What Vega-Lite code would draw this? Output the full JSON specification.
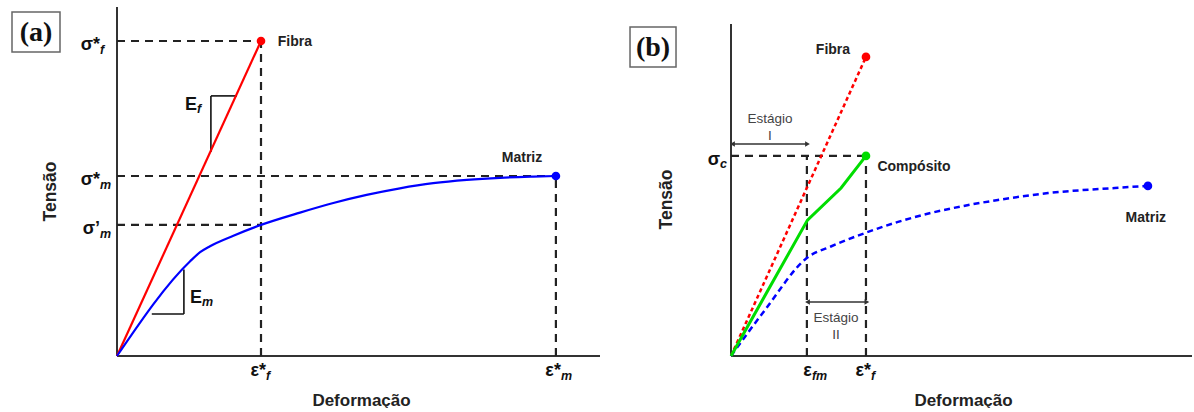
{
  "$schema": "https://vega.github.io/schema/vega-lite/v6.json",
  "padding": {"left": 9, "top": 5, "right": 0, "bottom": 0},
  "autosize": {"type": "pad"},
  "background": "white",
  "spacing": 26,
  "config": {"view": {"stroke": null}, "font": "Liberation Sans"},
  "datasets": {
    "a_axes": [{"x": 0, "y": 0, "x2": 0, "y2": 116.3}, {"x": 0, "y": 0, "x2": 161, "y2": 0}],
    "a_dash": [
      {"x": 0, "y": 105, "x2": 48, "y2": 105},
      {"x": 48, "y": 0, "x2": 48, "y2": 105},
      {"x": 0, "y": 60, "x2": 146.3, "y2": 60},
      {"x": 0, "y": 43.7, "x2": 48, "y2": 43.7},
      {"x": 146.3, "y": 0, "x2": 146.3, "y2": 60}
    ],
    "a_tri": [
      {"x": 31.3, "y": 86.7, "x2": 40, "y2": 86.7},
      {"x": 31.3, "y": 68, "x2": 31.3, "y2": 86.7},
      {"x": 11.6, "y": 14, "x2": 22.3, "y2": 14},
      {"x": 22.3, "y": 14, "x2": 22.3, "y2": 28.8}
    ],
    "a_lines": [
      {"s": "Fibra", "x": 0, "y": 0}, {"s": "Fibra", "x": 48, "y": 105},
      {"s": "Matriz", "x": 0, "y": 0}, {"s": "Matriz", "x": 24.3, "y": 31.5},
      {"s": "Matriz", "x": 27.7, "y": 34.6}, {"s": "Matriz", "x": 31, "y": 36.6},
      {"s": "Matriz", "x": 38.8, "y": 40.1}, {"s": "Matriz", "x": 48, "y": 43.7},
      {"s": "Matriz", "x": 61, "y": 47.8}, {"s": "Matriz", "x": 72.1, "y": 51.0},
      {"s": "Matriz", "x": 83.2, "y": 53.7}, {"s": "Matriz", "x": 94.3, "y": 55.9},
      {"s": "Matriz", "x": 105.4, "y": 57.6}, {"s": "Matriz", "x": 116.6, "y": 58.7},
      {"s": "Matriz", "x": 127.7, "y": 59.4}, {"s": "Matriz", "x": 138.7, "y": 59.8},
      {"s": "Matriz", "x": 146.3, "y": 60}
    ],
    "a_pts": [{"s": "Fibra", "x": 48, "y": 105}, {"s": "Matriz", "x": 146.3, "y": 60}],
    "a_box": [{"x": -27, "y": 108, "t": "(a)"}],
    "a_ylab": [
      {"x": 0, "y": 105, "main": "σ*", "sub": "f"},
      {"x": 0, "y": 60, "main": "σ*", "sub": "m"},
      {"x": 0, "y": 43.7, "main": "σ’", "sub": "m"}
    ],
    "a_xlab": [
      {"x": 48, "y": 0, "main": "ε*", "sub": "f"},
      {"x": 146.3, "y": 0, "main": "ε*", "sub": "m"}
    ],
    "a_elab": [
      {"x": 26.7, "y": 82, "main": "E", "sub": "f"},
      {"x": 28.3, "y": 17.7, "main": "E", "sub": "m"}
    ],
    "a_names": [{"x": 59.3, "y": 104.7, "t": "Fibra"}, {"x": 135, "y": 66, "t": "Matriz"}],
    "b_axes": [{"x": 0, "y": 0, "x2": 0, "y2": 110.7}, {"x": 0, "y": 0, "x2": 153.7, "y2": 0}],
    "b_dash": [
      {"x": 0, "y": 66.7, "x2": 45, "y2": 66.7},
      {"x": 25.3, "y": 0, "x2": 25.3, "y2": 66.7},
      {"x": 45, "y": 0, "x2": 45, "y2": 66.7}
    ],
    "b_lines": [
      {"s": "Fibra", "x": 0, "y": 0}, {"s": "Fibra", "x": 45, "y": 99.7},
      {"s": "Matriz", "x": 0, "y": 0}, {"s": "Matriz", "x": 11.3, "y": 15.3},
      {"s": "Matriz", "x": 25.7, "y": 33}, {"s": "Matriz", "x": 33.3, "y": 36.5},
      {"s": "Matriz", "x": 44.7, "y": 41}, {"s": "Matriz", "x": 55.7, "y": 44.7},
      {"s": "Matriz", "x": 66.7, "y": 47.7}, {"s": "Matriz", "x": 78, "y": 50.1},
      {"s": "Matriz", "x": 89, "y": 52}, {"s": "Matriz", "x": 105.7, "y": 54.3},
      {"s": "Matriz", "x": 128, "y": 56}, {"s": "Matriz", "x": 139, "y": 56.7}
    ],
    "b_comp": [
      {"s": "Compósito", "x": 0, "y": 0}, {"s": "Compósito", "x": 25.5, "y": 45.3},
      {"s": "Compósito", "x": 36.7, "y": 56}, {"s": "Compósito", "x": 45, "y": 66.7}
    ],
    "b_pts": [
      {"s": "Fibra", "x": 45, "y": 99.7},
      {"s": "Compósito", "x": 45, "y": 66.7},
      {"s": "Matriz", "x": 139, "y": 56.7}
    ],
    "b_arrows": [{"x": 0.5, "x2": 25.5, "y": 70.7}, {"x": 25.5, "x2": 45.3, "y": 18}],
    "b_heads": [
      {"x": 0.5, "y": 70.7, "d": "l"}, {"x": 25.5, "y": 70.7, "d": "r"},
      {"x": 25.5, "y": 18, "d": "l"}, {"x": 45.3, "y": 18, "d": "r"}
    ],
    "b_stage": [{"x": 13, "y": 79, "t": "Estágio\nI"}, {"x": 35, "y": 12.7, "t": "Estágio\nII"}],
    "b_box": [{"x": -26, "y": 103, "t": "(b)"}],
    "b_ylab": [{"x": 0, "y": 66.7, "main": "σ", "sub": "c"}],
    "b_xlab": [
      {"x": 25.3, "y": 0, "main": "ε", "sub": "fm"},
      {"x": 45, "y": 0, "main": "ε*", "sub": "f"}
    ],
    "b_names": [
      {"x": 34, "y": 102, "t": "Fibra"},
      {"x": 61, "y": 63, "t": "Compósito"},
      {"x": 138.3, "y": 46, "t": "Matriz"}
    ]
  },
  "hconcat": [
    {
      "width": 483,
      "height": 351,
      "encoding": {
        "x": {"field": "x", "type": "quantitative",
          "scale": {"domain": [0, 161], "nice": false, "zero": false},
          "axis": {"title": "Deformação", "domain": false, "ticks": false, "labels": false, "grid": false,
            "titleX": 244, "titleY": 49, "titleBaseline": "alphabetic", "titleAlign": "center",
            "titleFontSize": 17, "titleFontWeight": "bold", "titleFont": "Liberation Sans", "titleColor": "#222"}},
        "y": {"field": "y", "type": "quantitative",
          "scale": {"domain": [0, 117], "nice": false, "zero": false},
          "axis": {"title": "Tensão", "domain": false, "ticks": false, "labels": false, "grid": false,
            "titleX": -62, "titleY": 186, "titleAngle": -90, "titleBaseline": "alphabetic", "titleAlign": "center",
            "titleFontSize": 17.5, "titleFontWeight": "bold", "titleFont": "Liberation Sans", "titleColor": "#222"}}
      },
      "layer": [
        {"data": {"name": "a_axes"}, "mark": {"type": "rule", "color": "#333", "strokeWidth": 2},
         "encoding": {"x2": {"field": "x2"}, "y2": {"field": "y2"}}},
        {"data": {"name": "a_dash"}, "mark": {"type": "rule", "color": "#222", "strokeWidth": 2.2, "strokeDash": [8, 6]},
         "encoding": {"x2": {"field": "x2"}, "y2": {"field": "y2"}}},
        {"data": {"name": "a_tri"}, "mark": {"type": "rule", "color": "#111", "strokeWidth": 1.6},
         "encoding": {"x2": {"field": "x2"}, "y2": {"field": "y2"}}},
        {"data": {"name": "a_lines"}, "mark": {"type": "line", "strokeWidth": 2.2, "interpolate": "monotone"},
         "encoding": {"color": {"field": "s", "type": "nominal",
           "scale": {"domain": ["Fibra", "Matriz", "Compósito"], "range": ["#ff0000", "#0000ff", "#00dd00"]}, "legend": null}}},
        {"data": {"name": "a_pts"}, "mark": {"type": "point", "filled": true, "opacity": 1, "size": 75},
         "encoding": {"color": {"field": "s", "type": "nominal",
           "scale": {"domain": ["Fibra", "Matriz", "Compósito"], "range": ["#ff0000", "#0000ff", "#00dd00"]}, "legend": null}}},
        {"data": {"name": "a_box"}, "mark": {"type": "point", "shape": "M-1.2,-1H1.2V1H-1.2Z", "size": 1600, "filled": false, "stroke": "#666", "strokeWidth": 1.5, "opacity": 1}},
        {"data": {"name": "a_box"}, "mark": {"type": "text", "font": "Liberation Serif", "fontWeight": "bold", "fontSize": 28, "baseline": "middle", "align": "center", "dy": 1, "color": "#111"},
         "encoding": {"text": {"field": "t"}}},
        {"data": {"name": "a_ylab"}, "mark": {"type": "text", "align": "right", "baseline": "alphabetic", "dx": -17, "dy": 9, "fontSize": 18, "fontWeight": "bold", "color": "#111"},
         "encoding": {"text": {"field": "main"}}},
        {"data": {"name": "a_ylab"}, "mark": {"type": "text", "align": "left", "baseline": "alphabetic", "dx": -17, "dy": 13, "fontSize": 12.5, "fontWeight": "bold", "fontStyle": "italic", "color": "#111"},
         "encoding": {"text": {"field": "sub"}}},
        {"data": {"name": "a_xlab"}, "mark": {"type": "text", "align": "right", "baseline": "alphabetic", "dx": 5, "dy": 20, "fontSize": 18, "fontWeight": "bold", "color": "#111"},
         "encoding": {"text": {"field": "main"}}},
        {"data": {"name": "a_xlab"}, "mark": {"type": "text", "align": "left", "baseline": "alphabetic", "dx": 5, "dy": 24, "fontSize": 12.5, "fontWeight": "bold", "fontStyle": "italic", "color": "#111"},
         "encoding": {"text": {"field": "sub"}}},
        {"data": {"name": "a_elab"}, "mark": {"type": "text", "align": "right", "baseline": "alphabetic", "fontSize": 18, "fontWeight": "bold", "color": "#111"},
         "encoding": {"text": {"field": "main"}}},
        {"data": {"name": "a_elab"}, "mark": {"type": "text", "align": "left", "baseline": "alphabetic", "dy": 3, "fontSize": 12.5, "fontWeight": "bold", "fontStyle": "italic", "color": "#111"},
         "encoding": {"text": {"field": "sub"}}},
        {"data": {"name": "a_names"}, "mark": {"type": "text", "align": "center", "baseline": "middle", "fontSize": 14, "fontWeight": "bold", "color": "#222"},
         "encoding": {"text": {"field": "t"}}}
      ]
    },
    {
      "width": 461,
      "height": 351,
      "encoding": {
        "x": {"field": "x", "type": "quantitative",
          "scale": {"domain": [0, 153.7], "nice": false, "zero": false},
          "axis": {"title": "Deformação", "domain": false, "ticks": false, "labels": false, "grid": false,
            "titleX": 232, "titleY": 49, "titleBaseline": "alphabetic", "titleAlign": "center",
            "titleFontSize": 17, "titleFontWeight": "bold", "titleFont": "Liberation Sans", "titleColor": "#222"}},
        "y": {"field": "y", "type": "quantitative",
          "scale": {"domain": [0, 117], "nice": false, "zero": false},
          "axis": {"title": "Tensão", "domain": false, "ticks": false, "labels": false, "grid": false,
            "titleX": -60, "titleY": 194, "titleAngle": -90, "titleBaseline": "alphabetic", "titleAlign": "center",
            "titleFontSize": 17.5, "titleFontWeight": "bold", "titleFont": "Liberation Sans", "titleColor": "#222"}}
      },
      "layer": [
        {"data": {"name": "b_axes"}, "mark": {"type": "rule", "color": "#333", "strokeWidth": 2},
         "encoding": {"x2": {"field": "x2"}, "y2": {"field": "y2"}}},
        {"data": {"name": "b_dash"}, "mark": {"type": "rule", "color": "#222", "strokeWidth": 2.2, "strokeDash": [8, 6]},
         "encoding": {"x2": {"field": "x2"}, "y2": {"field": "y2"}}},
        {"data": {"name": "b_arrows"}, "mark": {"type": "rule", "color": "#333", "strokeWidth": 1.5},
         "encoding": {"x2": {"field": "x2"}}},
        {"data": {"name": "b_heads"}, "mark": {"type": "point", "filled": true, "size": 30, "color": "#333", "opacity": 1},
         "encoding": {"shape": {"field": "d", "type": "nominal", "scale": {"domain": ["l", "r"], "range": ["triangle-left", "triangle-right"]}, "legend": null}}},
        {"data": {"name": "b_lines"}, "mark": {"type": "line", "strokeWidth": 2.5, "interpolate": "monotone"},
         "encoding": {
           "color": {"field": "s", "type": "nominal",
             "scale": {"domain": ["Fibra", "Matriz", "Compósito"], "range": ["#ff0000", "#0000ff", "#00dd00"]}, "legend": null},
           "strokeDash": {"field": "s", "type": "nominal",
             "scale": {"domain": ["Fibra", "Matriz"], "range": [[4, 3], [6, 4]]}, "legend": null}}},
        {"data": {"name": "b_comp"}, "mark": {"type": "line", "strokeWidth": 3, "color": "#00dd00"}},
        {"data": {"name": "b_pts"}, "mark": {"type": "point", "filled": true, "opacity": 1, "size": 75},
         "encoding": {"color": {"field": "s", "type": "nominal",
           "scale": {"domain": ["Fibra", "Matriz", "Compósito"], "range": ["#ff0000", "#0000ff", "#00dd00"]}, "legend": null}}},
        {"data": {"name": "b_box"}, "mark": {"type": "point", "shape": "M-1.15,-1H1.15V1H-1.15Z", "size": 1600, "filled": false, "stroke": "#666", "strokeWidth": 1.5, "opacity": 1}},
        {"data": {"name": "b_box"}, "mark": {"type": "text", "font": "Liberation Serif", "fontWeight": "bold", "fontSize": 28, "baseline": "middle", "align": "center", "dy": 1, "color": "#111"},
         "encoding": {"text": {"field": "t"}}},
        {"data": {"name": "b_ylab"}, "mark": {"type": "text", "align": "right", "baseline": "alphabetic", "dx": -11, "dy": 9, "fontSize": 18, "fontWeight": "bold", "color": "#111"},
         "encoding": {"text": {"field": "main"}}},
        {"data": {"name": "b_ylab"}, "mark": {"type": "text", "align": "left", "baseline": "alphabetic", "dx": -11, "dy": 12, "fontSize": 12.5, "fontWeight": "bold", "fontStyle": "italic", "color": "#111"},
         "encoding": {"text": {"field": "sub"}}},
        {"data": {"name": "b_xlab"}, "mark": {"type": "text", "align": "right", "baseline": "alphabetic", "dx": 5, "dy": 20, "fontSize": 18, "fontWeight": "bold", "color": "#111"},
         "encoding": {"text": {"field": "main"}}},
        {"data": {"name": "b_xlab"}, "mark": {"type": "text", "align": "left", "baseline": "alphabetic", "dx": 5, "dy": 24, "fontSize": 12.5, "fontWeight": "bold", "fontStyle": "italic", "color": "#111"},
         "encoding": {"text": {"field": "sub"}}},
        {"data": {"name": "b_stage"}, "mark": {"type": "text", "align": "center", "baseline": "middle", "lineBreak": "\n", "lineHeight": 17, "fontSize": 13.5, "color": "#444"},
         "encoding": {"text": {"field": "t"}}},
        {"data": {"name": "b_names"}, "mark": {"type": "text", "align": "center", "baseline": "middle", "fontSize": 14, "fontWeight": "bold", "color": "#222"},
         "encoding": {"text": {"field": "t"}}}
      ]
    }
  ]
}
